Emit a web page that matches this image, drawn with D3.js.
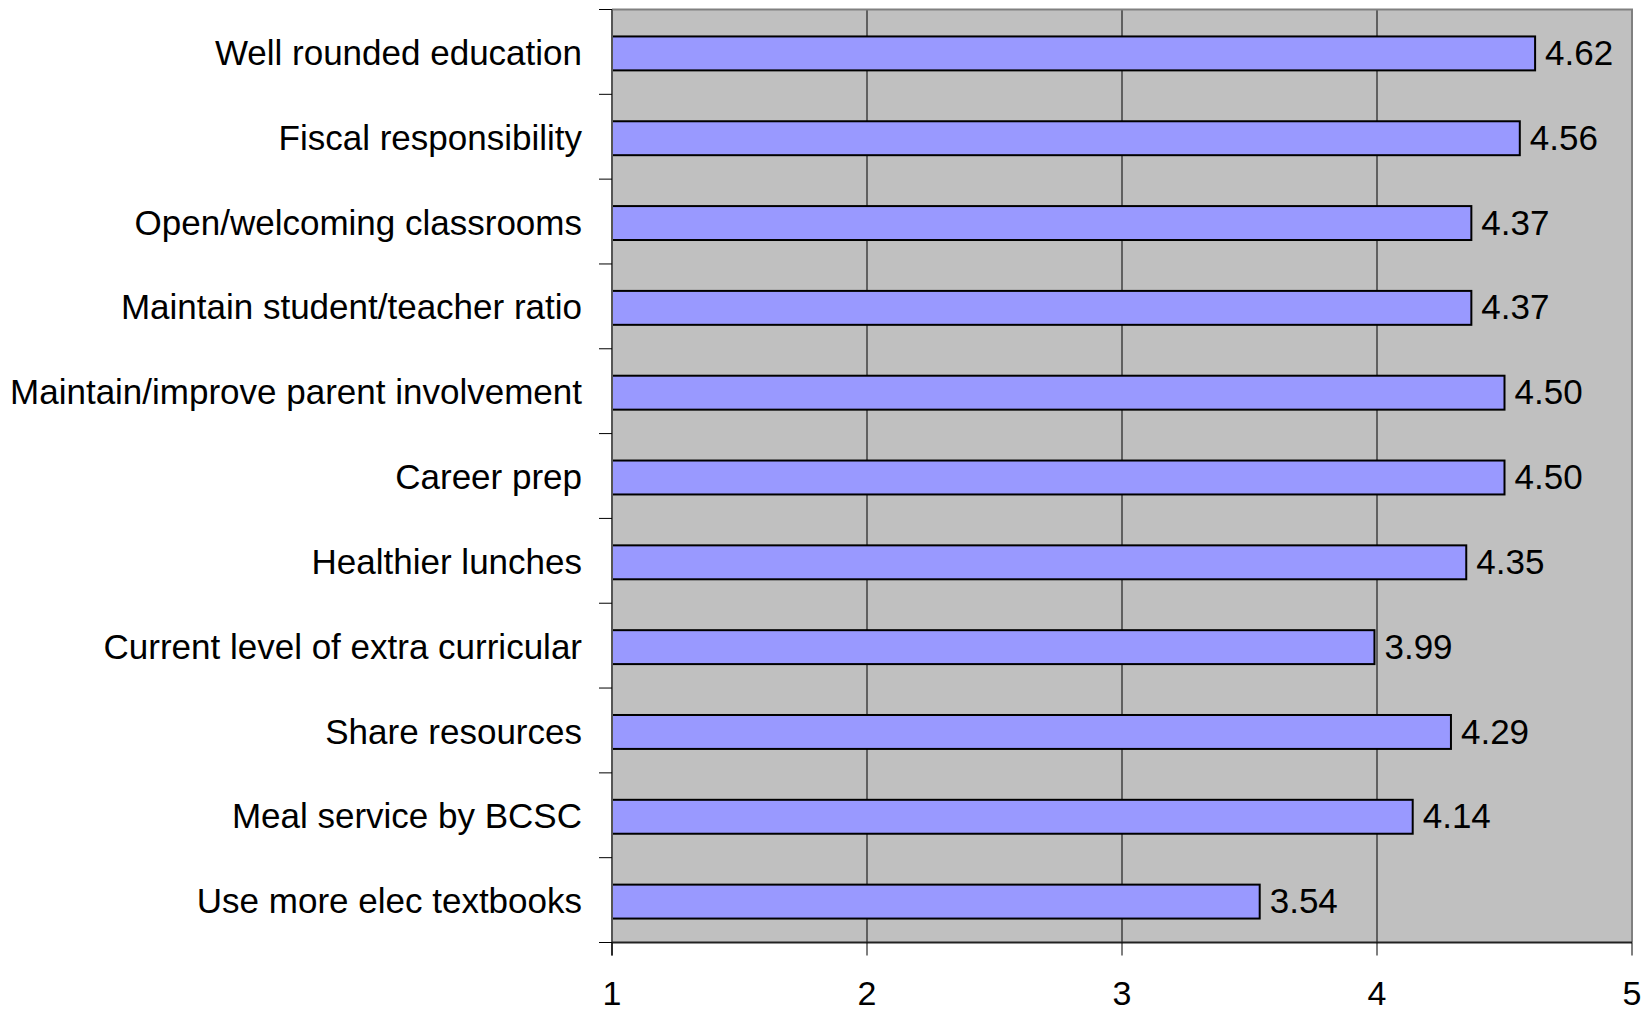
<!DOCTYPE html>
<html>
<head>
<meta charset="utf-8">
<script src="https://cdn.jsdelivr.net/npm/d3@7"></script>
<style>
  html, body { margin: 0; padding: 0; background: #fff; }
  svg { display: block; font-family: "Liberation Sans", Arial, sans-serif; }
</style>
</head>
<body>
<svg id="chart" width="1651" height="1013"></svg>
<script>
const categories = [
  "Well rounded education",
  "Fiscal responsibility",
  "Open/welcoming classrooms",
  "Maintain student/teacher ratio",
  "Maintain/improve parent involvement",
  "Career prep",
  "Healthier lunches",
  "Current level of extra curricular",
  "Share resources",
  "Meal service by BCSC",
  "Use more elec textbooks"
];
const values = [4.62, 4.56, 4.37, 4.37, 4.50, 4.50, 4.35, 3.99, 4.29, 4.14, 3.54];
const valueLabels = ["4.62", "4.56", "4.37", "4.37", "4.50", "4.50", "4.35", "3.99", "4.29", "4.14", "3.54"];
const xTicks = [1, 2, 3, 4, 5];

(function () {
const svg = d3.select("#chart");
const pLeft = 612, pRight = 1632, pTop = 9.5, pBottom = 942.5;

const x = d3.scaleLinear().domain([1, 5]).range([pLeft, pRight]);
const y = d3.scaleBand().domain(categories).range([pTop, pBottom])
  .paddingInner(0.6).paddingOuter(0.3);

svg.append("rect")
  .attr("x", pLeft).attr("y", pTop)
  .attr("width", pRight - pLeft).attr("height", pBottom - pTop)
  .attr("fill", "#C0C0C0");

svg.append("g").selectAll("line")
  .data(xTicks.slice(1, -1))
  .join("line")
  .attr("x1", d => x(d)).attr("x2", d => x(d))
  .attr("y1", pTop).attr("y2", pBottom)
  .attr("stroke", "#000").attr("stroke-width", 1);

svg.append("path")
  .attr("d", `M${pLeft},${pTop}H${pRight}V${pBottom}`)
  .attr("fill", "none").attr("stroke", "#808080").attr("stroke-width", 2);

svg.append("g").selectAll("rect")
  .data(categories)
  .join("rect")
  .attr("x", x(1))
  .attr("y", d => y(d) + 1.5)
  .attr("width", (d, i) => x(values[i]) - x(1))
  .attr("height", y.bandwidth())
  .attr("fill", "#9999FF")
  .attr("stroke", "#000")
  .attr("stroke-width", 2);

svg.append("g").selectAll("text")
  .data(categories)
  .join("text")
  .attr("x", (d, i) => x(values[i]) + 10)
  .attr("y", d => y(d) + 1.5 + y.bandwidth() / 2)
  .attr("dy", "0.33em")
  .attr("font-size", 35)
  .attr("fill", "#000")
  .text((d, i) => valueLabels[i]);

svg.append("line")
  .attr("x1", pLeft).attr("x2", pLeft)
  .attr("y1", pTop).attr("y2", pBottom + 13)
  .attr("stroke", "#555").attr("stroke-width", 2);

const boundaries = categories.map(d => y(d) - y.step() * y.paddingInner() / 2).concat([pBottom]);
svg.append("g").selectAll("line")
  .data(boundaries)
  .join("line")
  .attr("x1", pLeft - 13).attr("x2", pLeft)
  .attr("y1", d => d).attr("y2", d => d)
  .attr("stroke", "#000").attr("stroke-width", 1);

svg.append("line")
  .attr("x1", pLeft).attr("x2", pRight)
  .attr("y1", pBottom).attr("y2", pBottom)
  .attr("stroke", "#222").attr("stroke-width", 2);

svg.append("g").selectAll("line")
  .data(xTicks)
  .join("line")
  .attr("x1", d => x(d)).attr("x2", d => x(d))
  .attr("y1", pBottom).attr("y2", pBottom + 13)
  .attr("stroke", "#000").attr("stroke-width", 1);

svg.append("g").selectAll("text")
  .data(xTicks)
  .join("text")
  .attr("x", d => x(d))
  .attr("y", 1005)
  .attr("text-anchor", "middle")
  .attr("font-size", 34)
  .attr("fill", "#000")
  .text(d => d);

svg.append("g").selectAll("text")
  .data(categories)
  .join("text")
  .attr("x", 582)
  .attr("y", d => y(d) + 1.5 + y.bandwidth() / 2)
  .attr("dy", "0.33em")
  .attr("text-anchor", "end")
  .attr("font-size", 35)
  .attr("fill", "#000")
  .text(d => d);
})();
</script>
</body>
</html>
